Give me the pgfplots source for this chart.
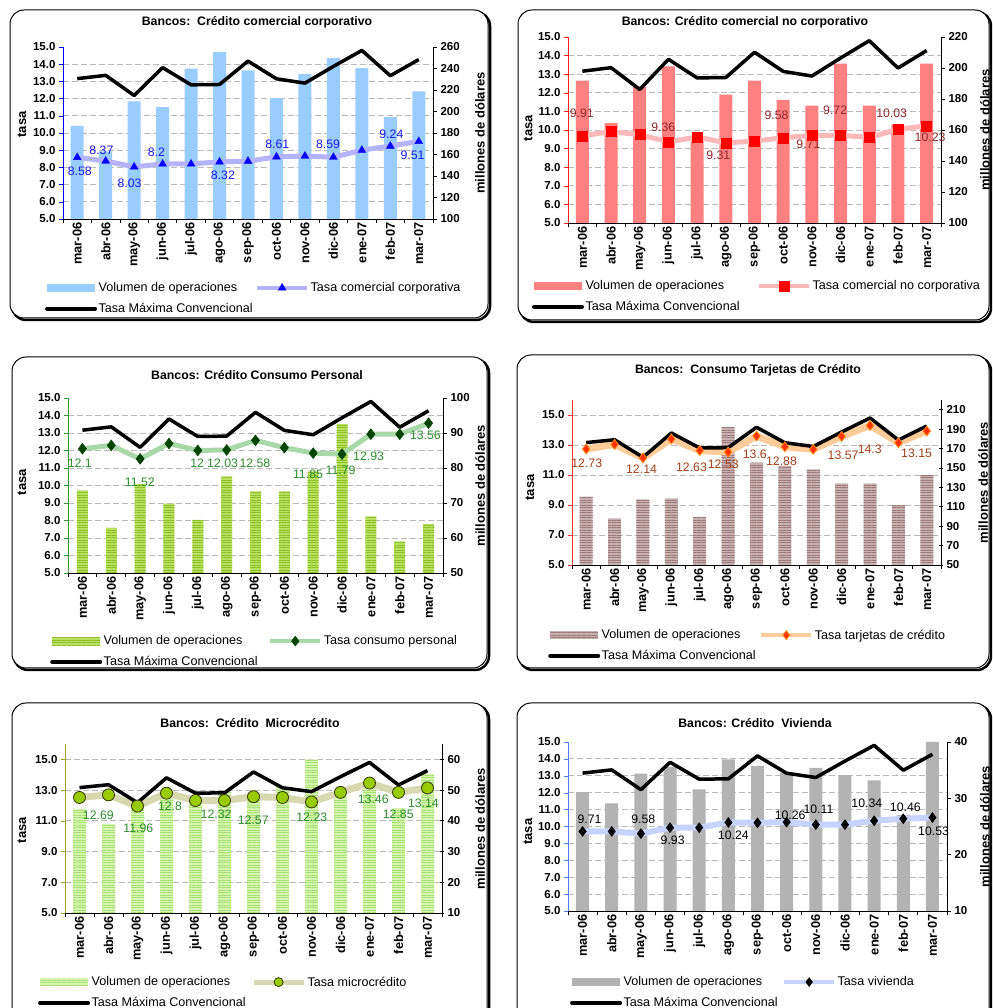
\documentclass[border=0pt]{standalone}
\usepackage{pgfplots}
\usepackage{pgfplotstable}
\pgfplotsset{compat=1.18}
\usetikzlibrary{patterns.meta}
\usepackage{fontspec}
\setmainfont{Liberation Sans}

\newcommand{\tickf}{\bfseries\fontsize{11.5}{13}\selectfont}
\newcommand{\xtickf}{\bfseries\fontsize{12.8}{14}\selectfont}
\newcommand{\legf}{\fontsize{12.6}{14}\selectfont}
\newcommand{\labf}{\fontsize{12.3}{14}\selectfont}
\newcommand{\titf}{\bfseries\fontsize{12.3}{14}\selectfont}
\newcommand{\axlabf}{\bfseries\fontsize{13}{14}\selectfont}

\definecolor{c1bar}{HTML}{99CCFF}\definecolor{c1line}{HTML}{B3B3FF}\definecolor{c1mk}{HTML}{0000FF}\definecolor{c1lab}{HTML}{1A1AE6}
\definecolor{c2bar}{HTML}{FF8080}\definecolor{c2line}{HTML}{FFB8B8}\definecolor{c2mk}{HTML}{FF0000}\definecolor{c2lab}{HTML}{8B2A2A}
\definecolor{c3base}{HTML}{B8E060}\definecolor{c3str}{HTML}{8CC026}\definecolor{c3line}{HTML}{A8D8A8}\definecolor{c3mk}{HTML}{004400}\definecolor{c3lab}{HTML}{2E8B2E}
\definecolor{c4base}{HTML}{C8B0B0}\definecolor{c4str}{HTML}{9C7A7A}\definecolor{c4line}{HTML}{FFCC99}\definecolor{c4mk}{HTML}{FF3300}\definecolor{c4mkd}{HTML}{FF8C1A}\definecolor{c4lab}{HTML}{A0401A}
\definecolor{c5base}{HTML}{D6F5B0}\definecolor{c5str}{HTML}{A6E070}\definecolor{c5line}{HTML}{D8D8B0}\definecolor{c5mk}{HTML}{99CC00}\definecolor{c5mkd}{HTML}{333300}\definecolor{c5lab}{HTML}{2E8B2E}
\definecolor{c6bar}{HTML}{B3B3B3}\definecolor{c6line}{HTML}{C6D3FF}
\definecolor{ax1}{HTML}{0000FF}\definecolor{ax2}{HTML}{FF2020}\definecolor{ax3}{HTML}{339933}\definecolor{ax4}{HTML}{FF3333}\definecolor{ax5}{HTML}{A0A020}\definecolor{ax6}{HTML}{4D80FF}

\pgfplotstableread{
x y
0 13.16
1 13.35
2 12.18
3 13.80
4 12.80
5 12.82
6 14.18
7 13.15
8 12.90
9 13.87
10 14.80
11 13.33
12 14.27
}\tmctable

\pgfplotsset{
  barlegend/.style={legend image code/.code={\path[##1] (0pt,-4pt) rectangle (48pt,4pt);}},
  linelegend/.style={legend image code/.code={\draw[mark repeat=2,mark phase=2,##1] plot coordinates {(0pt,0pt) (25pt,0pt) (50pt,0pt)};}},
  tmclegend/.style={legend image code/.code={\draw[##1] (0pt,0pt) -- (48pt,0pt);}},
  barax/.style={scale only axis, anchor=south west, xmin=-0.5, xmax=12.5,
    axis x line=none, axis y line*=right, axis line style={-, black, line width=0.8pt},
    tick align=outside, major tick length=4pt, ytick style={black, line width=0.8pt},
    yticklabel style={font=\tickf}, /pgf/number format/assume math mode=true,
    extra y tick labels={}, extra y tick style={grid=major, major tick length=0pt},
    major grid style={gray!55, dash pattern=on 6pt off 3pt, line width=0.9pt},
    ylabel={millones de dólares}, ylabel style={font=\axlabf, anchor=center}},
  lineax/.style={scale only axis, anchor=south west, xmin=-0.5, xmax=12.5, clip=false,
    axis x line*=bottom, axis y line*=left, axis line style={-},
    x axis line style={black, line width=0.8pt}, y axis line style={line width=0.9pt},
    tick align=outside, major tick length=4pt,
    xtick={-0.5,0.5,...,12.5}, xticklabels={}, xtick style={black, line width=0.8pt},
    extra x ticks={0,1,...,12},
    extra x tick labels={mar-06,abr-06,may-06,jun-06,jul-06,ago-06,sep-06,oct-06,nov-06,dic-06,ene-07,feb-07,mar-07},
    extra x tick style={major tick length=0pt},
    x tick label style={rotate=90, anchor=east, font=\xtickf},
    yticklabel style={font=\tickf, /pgf/number format/fixed, /pgf/number format/fixed zerofill, /pgf/number format/precision=1},
    /pgf/number format/assume math mode=true,
    ylabel={tasa}, ylabel style={font=\axlabf, anchor=center},
    legend columns=2, legend cell align=left,
    legend style={draw=none, fill=none, inner sep=0pt, anchor=north west, font=\legf, row sep=7pt, nodes={inner sep=1.5pt}}},
}
\tikzset{lab/.style={font=\labf, inner sep=0pt}}

\begin{document}
\begin{tikzpicture}[x=1pt,y=1pt]
\path[use as bounding box] (0,0) rectangle (992,1008);
\clip (0,0) rectangle (992,1008);
\foreach \a/\b/\c/\d in {10/690/488/998, 518/688/989/998, 12/340/487/651, 517/340/989/653, 12/-30/487/305, 517/-30/989/305}{
  \draw[black, line width=2.5pt, rounded corners=14pt] (\a+2,\b-2) rectangle (\c+2,\d-2);
  \draw[black, line width=1pt, fill=white, rounded corners=14pt] (\a,\b) rectangle (\c,\d);
}
\node[font=\titf] at (257,986) {Bancos:\ \ Crédito comercial corporativo};
\node[font=\titf] at (745,986) {Bancos: Crédito comercial no corporativo};
\node[font=\titf] at (257,633) {Bancos: Crédito Consumo Personal};
\node[font=\titf] at (748,638) {Bancos:\ \ Consumo Tarjetas de Crédito};
\node[font=\titf] at (250,285) {Bancos:\ \ Crédito\ \ Microcrédito};
\node[font=\titf] at (755,285) {Bancos: Crédito\ \ Vivienda};

% ---------------- Panel 1
\begin{axis}[barax, at={(63pt,789pt)}, width=370pt, height=172pt, ymin=100, ymax=260, ytick={100,120,...,260},
  extra y ticks={116,132,148,164,180,196,212,228,244}, ylabel style={at={(axis description cs:1.127,0.5)}}]
\addplot[ybar, bar width=13pt, fill=c1bar, draw=none] coordinates {(0,186.7) (1,163) (2,209.3) (3,204) (4,239.8) (5,255.3) (6,238.2) (7,212.5) (8,235) (9,249.7) (10,240.4) (11,194.8) (12,218.6)};
\end{axis}
\begin{axis}[lineax, at={(63pt,789pt)}, width=370pt, height=172pt, ymin=5, ymax=15, ytick={5,6,...,15},
  y axis line style={draw=ax1}, ytick style={draw=ax1}, ylabel style={at={(axis description cs:-0.111,0.55)}},
  legend style={at={(axis description cs:-0.049,-0.36)}, /tikz/every even column/.append style={column sep=1pt}}]
\addlegendimage{barlegend, fill=c1bar, draw=none}\addlegendentry{Volumen de operaciones}
\addlegendimage{linelegend, c1line, line width=4pt, mark=triangle*, mark size=4.5pt, mark options={solid, draw=c1mk, fill=c1mk, line width=0.4pt}}\addlegendentry{Tasa comercial corporativa}
\addlegendimage{tmclegend, black, line width=4pt, line cap=round}\addlegendentry{Tasa Máxima Convencional}
\addplot[forget plot, c1line, line width=5pt, line join=round] coordinates {(0,8.58) (1,8.37) (2,8.03) (3,8.2) (4,8.2) (5,8.32) (6,8.36) (7,8.61) (8,8.66) (9,8.59) (10,9.0) (11,9.24) (12,9.51)};
\addplot[forget plot, black, line width=3.5pt, line join=round] table[x=x,y=y] {\tmctable};
\addplot[forget plot, only marks, mark=triangle*, mark size=4.5pt, draw=c1mk, fill=c1mk] coordinates {(0,8.58) (1,8.37) (2,8.03) (3,8.2) (4,8.2) (5,8.32) (6,8.36) (7,8.61) (8,8.66) (9,8.59) (10,9.0) (11,9.24) (12,9.51)};
\node[lab, text=c1lab] at (axis cs:0.09,7.77) {8.58};
\node[lab, text=c1lab] at (axis cs:0.85,8.99) {8.37};
\node[lab, text=c1lab] at (axis cs:1.84,7.09) {8.03};
\node[lab, text=c1lab] at (axis cs:2.78,8.9) {8.2};
\node[lab, text=c1lab] at (axis cs:5.12,7.52) {8.32};
\node[lab, text=c1lab] at (axis cs:7.03,9.32) {8.61};
\node[lab, text=c1lab] at (axis cs:8.81,9.32) {8.59};
\node[lab, text=c1lab] at (axis cs:11.04,9.9) {9.24};
\node[lab, text=c1lab] at (axis cs:11.78,8.7) {9.51};
\end{axis}

% ---------------- Panel 2
\begin{axis}[barax, at={(568pt,785pt)}, width=373pt, height=186pt, ymin=100, ymax=220, ytick={100,120,...,220},
  extra y ticks={112,124,136,148,160,172,184,196,208}, ylabel style={at={(axis description cs:1.118,0.5)}}]
\addplot[ybar, bar width=13pt, fill=c2bar, draw=none] coordinates {(0,191.8) (1,164.5) (2,188) (3,201) (4,152.6) (5,182.8) (6,191.8) (7,179.5) (8,175.7) (9,202.8) (10,175.7) (11,163.4) (12,202.8)};
\end{axis}
\begin{axis}[lineax, at={(568pt,785pt)}, width=373pt, height=186pt, ymin=5, ymax=15, ytick={5,6,...,15},
  y axis line style={draw=ax2}, ytick style={draw=ax2}, ylabel style={at={(axis description cs:-0.107,0.51)}},
  legend style={at={(axis description cs:-0.097,-0.301)}, /tikz/every even column/.append style={column sep=16pt}}]
\addlegendimage{barlegend, fill=c2bar, draw=none}\addlegendentry{Volumen de operaciones}
\addlegendimage{linelegend, c2line, line width=4pt, mark=square*, mark size=5pt, mark options={solid, draw=c2mk, fill=c2mk, line width=0.4pt}}\addlegendentry{Tasa comercial no corporativa}
\addlegendimage{tmclegend, black, line width=4pt, line cap=round}\addlegendentry{Tasa Máxima Convencional}
\addplot[forget plot, c2line, line width=5pt, line join=round] coordinates {(0,9.69) (1,9.91) (2,9.75) (3,9.36) (4,9.62) (5,9.31) (6,9.4) (7,9.58) (8,9.71) (9,9.72) (10,9.6) (11,10.03) (12,10.23)};
\addplot[forget plot, black, line width=3.5pt, line join=round] table[x=x,y=y] {\tmctable};
\addplot[forget plot, only marks, mark=square*, mark size=5pt, draw=c2mk, fill=c2mk] coordinates {(0,9.69) (1,9.91) (2,9.75) (3,9.36) (4,9.62) (5,9.31) (6,9.4) (7,9.58) (8,9.71) (9,9.72) (10,9.6) (11,10.03) (12,10.23)};
\node[lab, text=c2lab] at (axis cs:-0.02,10.91) {9.91};
\node[lab, text=c2lab] at (axis cs:2.82,10.16) {9.36};
\node[lab, text=c2lab] at (axis cs:4.74,8.62) {9.31};
\node[lab, text=c2lab] at (axis cs:6.77,10.77) {9.58};
\node[lab, text=c2lab] at (axis cs:7.88,9.21) {9.71};
\node[lab, text=c2lab] at (axis cs:8.81,11.05) {9.72};
\node[lab, text=c2lab] at (axis cs:10.78,10.91) {10.03};
\node[lab, text=c2lab] at (axis cs:12.12,9.6) {10.23};
\end{axis}

% ---------------- Panel 3
\begin{axis}[barax, at={(68pt,435pt)}, width=375pt, height=175pt, ymin=50, ymax=100, ytick={50,60,...,100},
  extra y ticks={55,60,65,70,75,80,85,90,95}, ylabel style={at={(axis description cs:1.099,0.5)}}]
\addplot[ybar, bar width=11pt, fill=c3base, draw=none, postaction={pattern={Lines[angle=0,distance=2.5pt,line width=1pt]}, pattern color=c3str}] coordinates {(0,73.5) (1,62.9) (2,75.4) (3,69.8) (4,65.2) (5,77.6) (6,73.3) (7,73.3) (8,79) (9,92.6) (10,66.2) (11,59) (12,64)};
\end{axis}
\begin{axis}[lineax, at={(68pt,435pt)}, width=375pt, height=175pt, ymin=5, ymax=15, ytick={5,6,...,15},
  y axis line style={draw=ax3}, ytick style={draw=ax3}, ylabel style={at={(axis description cs:-0.123,0.52)}},
  legend style={at={(axis description cs:-0.048,-0.349)}, /tikz/every even column/.append style={column sep=9pt}}]
\addlegendimage{barlegend, fill=c3base, draw=none, postaction={pattern={Lines[angle=0,distance=2.5pt,line width=1pt]}, pattern color=c3str}}\addlegendentry{Volumen de operaciones}
\addlegendimage{linelegend, c3line, line width=4pt, mark=diamond*, mark size=5pt, mark options={solid, draw=c3mk, fill=c3mk, line width=0.4pt}}\addlegendentry{Tasa consumo personal}
\addlegendimage{tmclegend, black, line width=4pt, line cap=round}\addlegendentry{Tasa Máxima Convencional}
\addplot[forget plot, c3line, line width=5pt, line join=round] coordinates {(0,12.1) (1,12.29) (2,11.52) (3,12.4) (4,12) (5,12.03) (6,12.58) (7,12.16) (8,11.85) (9,11.79) (10,12.93) (11,12.93) (12,13.56)};
\addplot[forget plot, black, line width=3.5pt, line join=round] table[x=x,y=y] {\tmctable};
\addplot[forget plot, only marks, mark=diamond*, mark size=5.5pt, draw=c3mk, fill=c3mk] coordinates {(0,12.1) (1,12.29) (2,11.52) (3,12.4) (4,12) (5,12.03) (6,12.58) (7,12.16) (8,11.85) (9,11.79) (10,12.93) (11,12.93) (12,13.56)};
\node[lab, text=c3lab] at (axis cs:-0.09,11.29) {12.1};
\node[lab, text=c3lab] at (axis cs:1.99,10.18) {11.52};
\node[lab, text=c3lab] at (axis cs:3.98,11.29) {12};
\node[lab, text=c3lab] at (axis cs:4.86,11.29) {12.03};
\node[lab, text=c3lab] at (axis cs:5.98,11.29) {12.58};
\node[lab, text=c3lab] at (axis cs:7.82,10.62) {11.85};
\node[lab, text=c3lab] at (axis cs:8.95,10.85) {11.79};
\node[lab, text=c3lab] at (axis cs:9.92,11.66) {12.93};
\node[lab, text=c3lab] at (axis cs:11.89,12.85) {13.56};
\end{axis}

% ---------------- Panel 4
\begin{axis}[barax, at={(572pt,443pt)}, width=369pt, height=165pt, ymin=50, ymax=220, ytick={50,70,...,210}, tick align=center,
  extra y ticks={80.91,111.82,142.73,173.64,204.55}, ylabel style={at={(axis description cs:1.114,0.5)}}]
\addplot[ybar, bar width=13pt, fill=c4base, draw=none, postaction={pattern={Lines[angle=0,distance=2.5pt,line width=1pt]}, pattern color=c4str}] coordinates {(0,120.4) (1,98.1) (2,117.7) (3,118.7) (4,99.5) (5,192.2) (6,155.4) (7,152) (8,148.6) (9,134.2) (10,134.2) (11,111.8) (12,142.7)};
\end{axis}
\begin{axis}[lineax, at={(572pt,443pt)}, width=369pt, height=165pt, ymin=5, ymax=16, ytick={5,7,...,15},
  y axis line style={draw=ax4}, ytick style={draw=ax4}, ylabel style={at={(axis description cs:-0.114,0.47)}},
  legend style={at={(axis description cs:-0.065,-0.382)}, /tikz/every even column/.append style={column sep=2pt}}]
\addlegendimage{barlegend, fill=c4base, draw=none, postaction={pattern={Lines[angle=0,distance=2.5pt,line width=1pt]}, pattern color=c4str}}\addlegendentry{Volumen de operaciones}
\addlegendimage{linelegend, c4line, line width=4pt, mark=diamond*, mark size=4.5pt, mark options={solid, draw=c4mkd, fill=c4mk, line width=0.8pt}}\addlegendentry{Tasa tarjetas de crédito}
\addlegendimage{tmclegend, black, line width=4pt, line cap=round}\addlegendentry{Tasa Máxima Convencional}
\addplot[forget plot, c4line, line width=7pt, line join=round] coordinates {(0,12.73) (1,13.04) (2,12.14) (3,13.4) (4,12.63) (5,12.53) (6,13.6) (7,12.88) (8,12.71) (9,13.57) (10,14.3) (11,13.15) (12,13.93)};
\addplot[forget plot, black, line width=3.5pt, line join=round] table[x=x,y=y] {\tmctable};
\addplot[forget plot, only marks, mark=diamond*, mark size=5pt, draw=c4mkd, fill=c4mk, line width=0.8pt] coordinates {(0,12.73) (1,13.04) (2,12.14) (3,13.4) (4,12.63) (5,12.53) (6,13.6) (7,12.88) (8,12.71) (9,13.57) (10,14.3) (11,13.15) (12,13.93)};
\node[lab, text=c4lab] at (axis cs:0.02,11.78) {12.73};
\node[lab, text=c4lab] at (axis cs:1.95,11.4) {12.14};
\node[lab, text=c4lab] at (axis cs:3.71,11.49) {12.63};
\node[lab, text=c4lab] at (axis cs:4.83,11.71) {12.53};
\node[lab, text=c4lab] at (axis cs:5.94,12.4) {13.6};
\node[lab, text=c4lab] at (axis cs:6.88,11.89) {12.88};
\node[lab, text=c4lab] at (axis cs:9.05,12.29) {13.57};
\node[lab, text=c4lab] at (axis cs:9.99,12.73) {14.3};
\node[lab, text=c4lab] at (axis cs:11.64,12.45) {13.15};
\end{axis}

% ---------------- Panel 5
\begin{axis}[barax, at={(65pt,95pt)}, width=377pt, height=169pt, ymin=10, ymax=65, ytick={10,20,...,60}, tick align=center,
  extra y ticks={20,30,40,50,60}, ylabel style={at={(axis description cs:1.101,0.5)}}]
\addplot[ybar, bar width=13pt, fill=c5base, draw=none, postaction={pattern={Lines[angle=0,distance=2.5pt,line width=1pt]}, pattern color=c5str}] coordinates {(0,43.8) (1,39) (2,44.5) (3,47.5) (4,45.7) (5,49.5) (6,49) (7,51.1) (8,60) (9,47.9) (10,51.7) (11,44.1) (12,55.2)};
\end{axis}
\begin{axis}[lineax, at={(65pt,95pt)}, width=377pt, height=169pt, ymin=5, ymax=16, ytick={5,7,...,15},
  y axis line style={draw=ax5}, ytick style={draw=ax5}, ylabel style={at={(axis description cs:-0.114,0.49)}},
  legend style={at={(axis description cs:-0.072,-0.367)}, /tikz/every even column/.append style={column sep=4pt}}]
\addlegendimage{barlegend, fill=c5base, draw=none, postaction={pattern={Lines[angle=0,distance=2.5pt,line width=1pt]}, pattern color=c5str}}\addlegendentry{Volumen de operaciones}
\addlegendimage{linelegend, c5line, line width=5pt, mark=*, mark size=4.5pt, mark options={solid, draw=c5mkd, fill=c5mk, line width=0.8pt}}\addlegendentry{Tasa microcrédito}
\addlegendimage{tmclegend, black, line width=4pt, line cap=round}\addlegendentry{Tasa Máxima Convencional}
\addplot[forget plot, c5line, line width=7pt, line join=round] coordinates {(0,12.52) (1,12.69) (2,11.96) (3,12.8) (4,12.32) (5,12.32) (6,12.57) (7,12.52) (8,12.23) (9,12.85) (10,13.46) (11,12.85) (12,13.14)};
\addplot[forget plot, black, line width=3.5pt, line join=round] table[x=x,y=y] {\tmctable};
\addplot[forget plot, only marks, mark=*, mark size=6pt, draw=c5mkd, fill=c5mk, line width=0.8pt] coordinates {(0,12.52) (1,12.69) (2,11.96) (3,12.8) (4,12.32) (5,12.32) (6,12.57) (7,12.52) (8,12.23) (9,12.85) (10,13.46) (11,12.85) (12,13.14)};
\node[lab, text=c5lab] at (axis cs:0.65,11.38) {12.69};
\node[lab, text=c5lab] at (axis cs:2.03,10.52) {11.96};
\node[lab, text=c5lab] at (axis cs:3.12,11.92) {12.8};
\node[lab, text=c5lab] at (axis cs:4.71,11.45) {12.32};
\node[lab, text=c5lab] at (axis cs:5.99,11.06) {12.57};
\node[lab, text=c5lab] at (axis cs:8.01,11.23) {12.23};
\node[lab, text=c5lab] at (axis cs:10.13,12.42) {13.46};
\node[lab, text=c5lab] at (axis cs:10.99,11.45) {12.85};
\node[lab, text=c5lab] at (axis cs:11.86,12.14) {13.14};
\end{axis}

% ---------------- Panel 6
\begin{axis}[barax, at={(568pt,97pt)}, width=379pt, height=169pt, ymin=10, ymax=40, ytick={10,20,...,40},
  extra y ticks={13,16,19,22,25,28,31,34,37}, ylabel style={at={(axis description cs:1.1,0.5)}}]
\addplot[ybar, bar width=13pt, fill=c6bar, draw=none] coordinates {(0,31.1) (1,29.1) (2,34.4) (3,35.6) (4,31.6) (5,36.9) (6,35.7) (7,34.5) (8,35.4) (9,34.1) (10,33.2) (11,27) (12,40)};
\end{axis}
\begin{axis}[lineax, at={(568pt,97pt)}, width=379pt, height=169pt, ymin=5, ymax=15, ytick={5,6,...,15},
  y axis line style={draw=ax6}, ytick style={draw=ax6}, ylabel style={at={(axis description cs:-0.106,0.47)}},
  legend style={at={(axis description cs:0.005,-0.379)}, /tikz/every even column/.append style={column sep=3pt}}]
\addlegendimage{barlegend, fill=c6bar, draw=none}\addlegendentry{Volumen de operaciones}
\addlegendimage{linelegend, c6line, line width=4pt, mark=diamond*, mark size=4.5pt, mark options={solid, draw=black, fill=black, line width=0.4pt}}\addlegendentry{Tasa vivienda}
\addlegendimage{tmclegend, black, line width=4pt, line cap=round}\addlegendentry{Tasa Máxima Convencional}
\addplot[forget plot, c6line, line width=6pt, line join=round] coordinates {(0,9.71) (1,9.71) (2,9.58) (3,9.93) (4,9.93) (5,10.24) (6,10.22) (7,10.26) (8,10.11) (9,10.11) (10,10.34) (11,10.46) (12,10.53)};
\addplot[forget plot, black, line width=3.5pt, line join=round] table[x=x,y=y] {\tmctable};
\addplot[forget plot, only marks, mark=diamond*, mark size=5pt, draw=black, fill=black] coordinates {(0,9.71) (1,9.71) (2,9.58) (3,9.93) (4,9.93) (5,10.24) (6,10.22) (7,10.26) (8,10.11) (9,10.11) (10,10.34) (11,10.46) (12,10.53)};
\node[lab] at (axis cs:0.24,10.42) {9.71};
\node[lab] at (axis cs:2.08,10.42) {9.58};
\node[lab] at (axis cs:3.09,9.19) {9.93};
\node[lab] at (axis cs:5.17,9.49) {10.24};
\node[lab] at (axis cs:7.12,10.67) {10.26};
\node[lab] at (axis cs:8.09,11.0) {10.11};
\node[lab] at (axis cs:9.75,11.36) {10.34};
\node[lab] at (axis cs:11.07,11.12) {10.46};
\node[lab] at (axis cs:12.04,9.73) {10.53};
\end{axis}
\end{tikzpicture}
\end{document}
